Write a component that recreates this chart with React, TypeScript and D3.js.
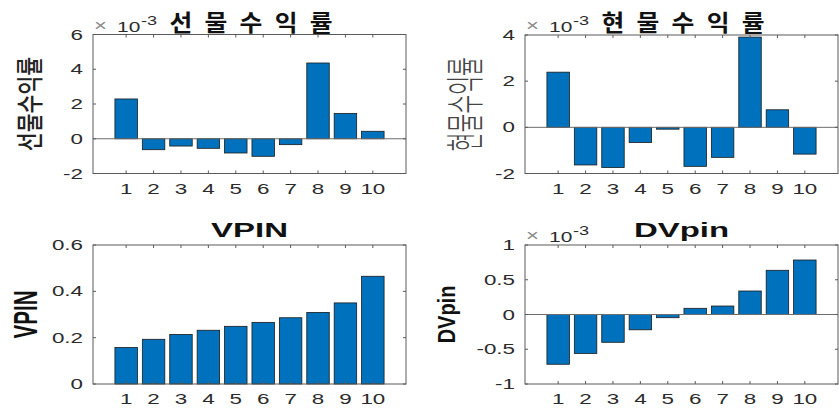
import React from "react";
import * as d3 from "d3";

const categories = [1, 2, 3, 4, 5, 6, 7, 8, 9, 10];
// values in units of 1e-3
const futuresReturn = [2.29, -0.63, -0.42, -0.55, -0.82, -1.01, -0.34, 4.36, 1.46, 0.43];
const spotReturn = [2.39, -1.63, -1.74, -0.66, -0.08, -1.69, -1.3, 3.91, 0.76, -1.16];
const vpinValues = [0.158, 0.193, 0.214, 0.232, 0.249, 0.266, 0.286, 0.309, 0.35, 0.465];
// values in units of 1e-3
const dvpinValues = [-0.716, -0.56, -0.4, -0.22, -0.046, 0.089, 0.122, 0.338, 0.636, 0.784];

const futuresTicks = [-2, 0, 2, 4, 6];
const spotTicks = [-2, 0, 2, 4];
const vpinTicks = [0, 0.2, 0.4, 0.6];
const dvpinTicks = [-1, -0.5, 0, 0.5, 1];

const titles = ["선물수익률", "현물수익률", "VPIN", "DVpin"];
const yLabels = ["선물수익률", "현물수익률", "VPIN", "DVpin"];
const expBase = "10";
const expPower = "-3";

const BAR = "#0072BD";
const AX = "#5a5a5a";
const TXT = "#2b2b2b";
const SX = 1.6;
const KR = "'Noto Sans CJK KR', 'Noto Sans', sans-serif";
const LAT = "'Liberation Sans', Arial, sans-serif";

type PanelCfg = {
  x0: number; x1: number; y0: number; y1: number;
  values: number[]; domain: [number, number]; ticks: number[];
  title: string; ylabel: string; korean: boolean; exp: boolean;
  ylabelX: number; ylabelWeight: number; ylabelFill: string; ylabelSx: number; ylabelSize: number;
};

function Panel({ c }: { c: PanelCfg }) {
  const x = d3.scaleLinear().domain([-0.21, 11.21]).range([c.x0, c.x1]);
  const y = d3.scaleLinear().domain(c.domain).range([c.y1, c.y0]);
  const bw = x(0.82) - x(0);
  const fmt = (v: number) => String(v);
  const midY = (c.y0 + c.y1) / 2;
  const midX = (c.x0 + c.x1) / 2;
  const hasZero = c.domain[0] < 0;
  const krSx = 1.1;
  const krLs = 11.2;
  return (
    <g>
      {categories.map((k, i) => {
        const v = c.values[i];
        const yt = y(Math.max(0, v));
        const yb = y(Math.min(0, v));
        return (
          <rect key={k} x={x(k) - bw / 2} y={yt} width={bw} height={Math.max(0.5, yb - yt)}
            fill={BAR} stroke="#1a1a1a" strokeWidth={0.8} />
        );
      })}
      {hasZero && <line x1={c.x0} x2={c.x1} y1={y(0)} y2={y(0)} stroke="#6e6e6e" strokeWidth={1} />}
      <rect x={c.x0} y={c.y0} width={c.x1 - c.x0} height={c.y1 - c.y0} fill="none" stroke={AX} strokeWidth={1} />
      {categories.map((k) => (
        <g key={"xt" + k}>
          <line x1={x(k)} x2={x(k)} y1={c.y1} y2={c.y1 - 3} stroke={AX} />
          <line x1={x(k)} x2={x(k)} y1={c.y0} y2={c.y0 + 3} stroke={AX} />
          <text transform={`translate(${x(k)},${c.y1 + 20}) scale(${SX},1)`} textAnchor="middle"
            fontFamily={LAT} fontSize={14} fill={TXT}>{k}</text>
        </g>
      ))}
      {c.ticks.map((t) => (
        <g key={"yt" + t}>
          <line x1={c.x0} x2={c.x0 + 3} y1={y(t)} y2={y(t)} stroke={AX} />
          <line x1={c.x1} x2={c.x1 - 3} y1={y(t)} y2={y(t)} stroke={AX} />
          <text transform={`translate(${c.x0 - 10},${y(t) + 5}) scale(${SX},1)`} textAnchor="end"
            fontFamily={LAT} fontSize={14} fill={TXT}>{fmt(t)}</text>
        </g>
      ))}
      {c.exp && (
        <g>
          <text transform={`translate(${c.x0 + 1},${c.y0 - 4}) scale(1.3,1)`} fontFamily={LAT} fontSize={17} fill="#8a8a8a">×</text>
          <text transform={`translate(${c.x0 + 24},${c.y0 - 3}) scale(1.35,1)`} fontFamily={LAT} fontSize={15.5} fill={TXT}>{expBase}</text>
          <text transform={`translate(${c.x0 + 48},${c.y0 - 10}) scale(1.45,1)`} fontFamily={LAT} fontSize={12.5} fill={TXT}>{expPower}</text>
        </g>
      )}
      {c.korean ? (
        <text transform={`translate(${midX + 1.5 + (krLs * krSx) / 2},${c.y0 - 4}) scale(${krSx},1)`} textAnchor="middle"
          fontFamily={KR} fontWeight={700} fontSize={22.5} letterSpacing={krLs} fill="#111">{c.title}</text>
      ) : (
        <text transform={`translate(${midX},${c.y0 - 8}) scale(${SX},1)`} textAnchor="middle"
          fontFamily={LAT} fontWeight={700} fontSize={20.6} fill="#111">{c.title}</text>
      )}
      <text transform={`translate(${c.ylabelX},${midY}) scale(${c.ylabelSx},1) rotate(-90)`} textAnchor="middle"
        fontFamily={c.korean ? KR : LAT} fontWeight={c.ylabelWeight} fontSize={c.ylabelSize}
        fill={c.ylabelFill}>{c.ylabel}</text>
    </g>
  );
}

export default function App() {
  const panels: PanelCfg[] = [
    { x0: 93, x1: 406, y0: 34.5, y1: 173.5, values: futuresReturn, domain: [-2, 6], ticks: futuresTicks,
      title: titles[0], ylabel: yLabels[0], korean: true, exp: true, ylabelX: 40, ylabelWeight: 500, ylabelFill: "#222", ylabelSx: 1.33, ylabelSize: 20.5 },
    { x0: 525, x1: 838, y0: 35, y1: 173.5, values: spotReturn, domain: [-2, 4], ticks: spotTicks,
      title: titles[1], ylabel: yLabels[1], korean: true, exp: true, ylabelX: 479, ylabelWeight: 300, ylabelFill: "#444", ylabelSx: 1.9, ylabelSize: 20.5 },
    { x0: 93, x1: 406, y0: 245, y1: 384, values: vpinValues, domain: [0, 0.6], ticks: vpinTicks,
      title: titles[2], ylabel: yLabels[2], korean: false, exp: false, ylabelX: 37, ylabelWeight: 700, ylabelFill: "#111", ylabelSx: 1.62, ylabelSize: 20.6 },
    { x0: 525, x1: 838, y0: 245, y1: 384, values: dvpinValues, domain: [-1, 1], ticks: dvpinTicks,
      title: titles[3], ylabel: yLabels[3], korean: false, exp: true, ylabelX: 455, ylabelWeight: 700, ylabelFill: "#111", ylabelSx: 1.2, ylabelSize: 20 },
  ];
  return (
    <div style={{ position: "absolute", left: 0, top: 0 }}>
      <svg width={839} height={411} style={{ display: "block", background: "#fff" }}>
        {panels.map((p, i) => <Panel key={i} c={p} />)}
      </svg>
    </div>
  );
}
